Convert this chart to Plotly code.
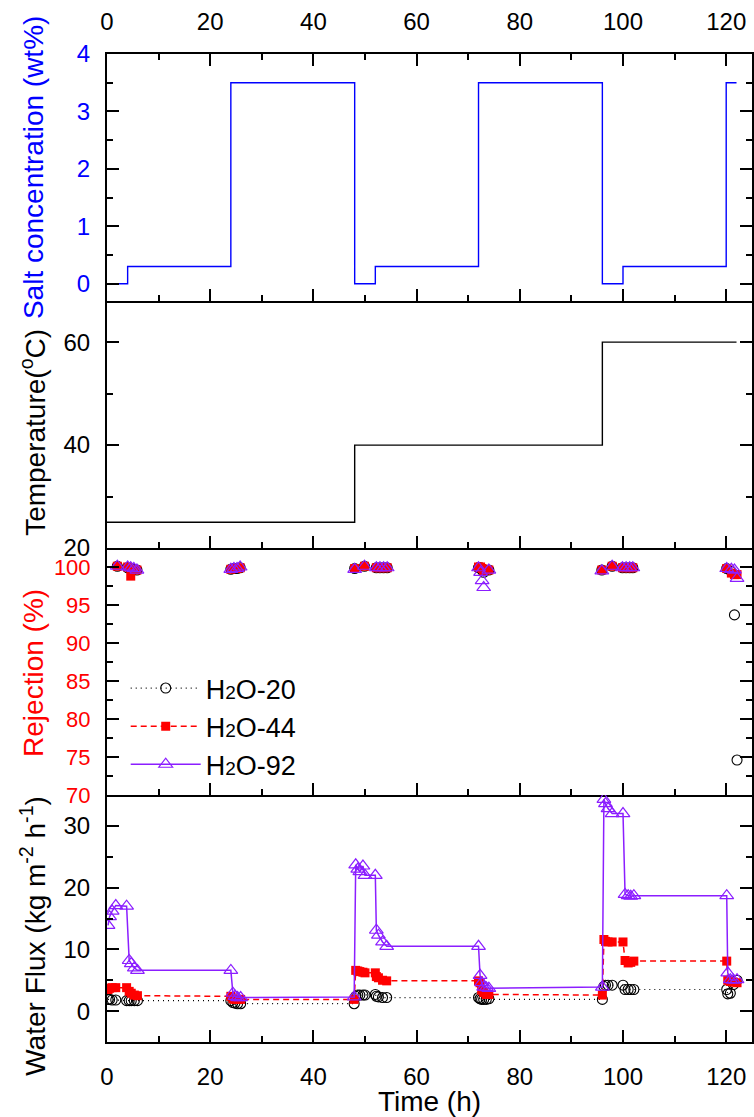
import plotly.graph_objects as go
from plotly.subplots import make_subplots

# ---- feed salt concentration programme (wt%) ----
salt_time = [0, 4, 24, 48, 52, 72, 96, 100, 120, 122]
salt_conc = [0, 0.3, 3.5, 0, 0.3, 3.5, 0, 0.3, 3.5, 3.5]

# ---- feed temperature programme (deg C) ----
temp_time = [0, 48, 96, 122]
temp_c = [25, 40, 60, 60]

# ---- salt rejection (%) ----
rej_time = [2.0, 4.0, 4.6, 5.2, 5.8,
            24.0, 24.6, 25.2, 25.8,
            48.0, 49.9, 52.2, 52.9, 53.6, 54.3,
            72.0, 72.4, 72.7, 73.0, 74.0,
            95.9, 97.9, 99.9, 100.6, 101.3, 101.9,
            120.1, 121.0, 121.6, 122.1]
rej_h2o20 = [100.1, 99.9, 99.8, 99.7, 99.6,
             99.7, 99.8, 99.8, 99.9,
             99.8, 100.1, 99.9, 99.9, 99.9, 99.9,
             99.9, 99.9, 99.6, 99.3, 99.6,
             99.6, 100.1, 99.9, 99.9, 99.9, 99.9,
             99.8, 99.4, 93.7, 74.6]
rej_h2o44 = [100.1, 100.0, 98.8, 99.7, 99.6,
             99.7, 99.8, 99.8, 99.9,
             99.8, 100.1, 99.9, 99.9, 99.9, 99.9,
             100.0, 100.0, 99.8, 99.5, 99.6,
             99.6, 100.1, 99.9, 99.9, 99.9, 99.9,
             99.8, 99.2, 99.0, 99.0]
rej_h2o92 = [100.1, 100.0, 99.9, 99.8, 99.6,
             99.7, 99.8, 99.8, 100.0,
             99.7, 100.1, 99.9, 99.9, 99.9, 99.9,
             99.9, 99.3, 98.2, 97.3, 99.6,
             99.5, 100.1, 99.9, 99.9, 99.9, 99.9,
             99.8, 99.7, 99.6, 98.5]

# ---- water flux (kg m-2 h-1) ----
flux_time = [0.2, 0.5, 1.0, 1.7, 3.8, 4.3, 4.7, 5.3, 5.9,
             24.0, 24.4, 24.8, 25.3, 25.9,
             47.9, 48.2, 48.6, 49.0, 49.6, 50.0, 52.0, 52.2, 52.6, 53.4, 54.2,
             72.0, 72.3, 72.6, 73.0, 73.5, 74.0,
             96.0, 96.3, 96.6, 97.1, 97.9, 100.0, 100.4, 101.0, 101.5, 102.1,
             120.1, 120.3, 120.8, 121.4, 122.1]
flux_h2o20 = [1.9, 1.9, 1.8, 1.8, 1.7, 1.7, 1.7, 1.7, 1.7,
              1.7, 1.4, 1.3, 1.2, 1.2,
              1.2, 2.4, 2.6, 2.6, 2.6, 2.6, 2.7, 2.4, 2.3, 2.2, 2.2,
              2.2, 2.0, 1.9, 1.9, 1.9, 2.0,
              1.9, 4.0, 4.2, 4.2, 4.2, 4.2, 3.5, 3.5, 3.5, 3.5,
              3.5, 2.8, 2.9, 4.3, 5.0]
flux_h2o44 = [3.5, 3.7, 3.8, 3.8, 3.8, 3.2, 2.9, 2.6, 2.5,
              2.4, 2.0, 1.9, 1.9, 1.9,
              1.9, 6.6, 6.5, 6.4, 6.3, 6.2, 6.2, 5.6, 5.4, 5.0, 4.9,
              4.9, 4.6, 3.4, 3.0, 2.7, 2.7,
              2.6, 11.6, 11.3, 11.2, 11.2, 11.2, 8.2, 7.8, 7.9, 8.1,
              8.1, 5.0, 4.8, 4.7, 4.6]
flux_h2o92 = [13.9, 15.3, 16.2, 17.1, 17.0, 8.2, 7.7, 7.0, 6.6,
              6.6, 2.9, 2.4, 2.2, 2.2,
              2.3, 23.7, 23.0, 22.6, 23.5, 22.0, 22.0, 13.1, 12.3, 11.2, 10.5,
              10.5, 5.8, 4.6, 3.9, 3.8, 3.7,
              3.9, 34.3, 33.6, 32.8, 32.0, 32.0, 18.9, 18.7, 18.6, 18.7,
              18.7, 6.2, 5.1, 5.0, 5.1]

FONT = "Liberation Sans, Arial, sans-serif"
BLUE = "#0000ff"
RED = "#ff0000"
PURPLE = "#8b1eff"

series = [
    dict(name='H<span style="font-size:19px">2</span>O-20', flux=flux_h2o20, rej=rej_h2o20,
         color="black", dash="1px,4px", width=1.2,
         marker=dict(symbol="circle-open", size=10, color="black", line=dict(width=1.1))),
    dict(name='H<span style="font-size:19px">2</span>O-44', flux=flux_h2o44, rej=rej_h2o44,
         color=RED, dash="6px,4px", width=1.5,
         marker=dict(symbol="square", size=9, color=RED, line=dict(width=0))),
    dict(name='H<span style="font-size:19px">2</span>O-92', flux=flux_h2o92, rej=rej_h2o92,
         color=PURPLE, dash="solid", width=1.5,
         marker=dict(symbol="triangle-up-open", size=12, color=PURPLE, line=dict(width=1.2))),
]

fig = make_subplots(rows=4, cols=1, vertical_spacing=0)

fig.add_trace(go.Scatter(x=salt_time, y=salt_conc, mode="lines", line_shape="hv",
                         line=dict(color=BLUE, width=1.4), showlegend=False), row=1, col=1)
fig.add_trace(go.Scatter(x=temp_time, y=temp_c, mode="lines", line_shape="hv",
                         line=dict(color="black", width=1.4), showlegend=False), row=2, col=1)

for s in series:
    fig.add_trace(go.Scatter(x=rej_time, y=s["rej"], mode="markers", marker=s["marker"],
                             showlegend=False), row=3, col=1)
for s in series:
    fig.add_trace(go.Scatter(x=flux_time, y=s["flux"], mode="lines+markers", name=s["name"],
                             line=dict(color=s["color"], dash=s["dash"], width=s["width"]),
                             marker=s["marker"]), row=4, col=1)

tick_common = dict(showline=True, linecolor="black", linewidth=2, ticks="inside",
                   ticklen=12, tickwidth=2, tickcolor="black", showgrid=False,
                   zeroline=False)
minor_common = dict(ticks="inside", ticklen=6, tickwidth=2, tickcolor="black", showgrid=False)

for r in range(1, 5):
    fig.update_xaxes(range=[0, 125], dtick=20, tick0=0,
                     minor=dict(dtick=10, **minor_common),
                     tickfont=dict(family=FONT, size=24, color="black"),
                     ticklabelstandoff=12, **tick_common, row=r, col=1)
fig.update_xaxes(side="top", mirror="ticks", showticklabels=True, row=1, col=1)
fig.update_xaxes(showticklabels=False, row=2, col=1)
fig.update_xaxes(showticklabels=False, row=3, col=1)
fig.update_xaxes(showticklabels=True, title=dict(text="Time (h)", font=dict(family=FONT, size=28),
                                                 standoff=6), row=4, col=1)

y_common = dict(mirror="ticks", ticklabelstandoff=10, **tick_common)
fig.update_yaxes(range=[-0.3, 4], dtick=1, tick0=0, minor=dict(dtick=0.5, **minor_common),
                 tickfont=dict(family=FONT, size=24, color=BLUE), **y_common, row=1, col=1)
fig.update_yaxes(range=[20, 68], dtick=20, tick0=20, minor=dict(dtick=10, **minor_common),
                 tickfont=dict(family=FONT, size=24, color="black"), **y_common, row=2, col=1)
fig.update_yaxes(range=[70, 102.5], dtick=5, tick0=70, minor=dict(dtick=2.5, **minor_common),
                 tickfont=dict(family=FONT, size=22, color=RED), **y_common, row=3, col=1)
fig.update_yaxes(range=[-5, 35], dtick=10, tick0=0, minor=dict(dtick=5, **minor_common),
                 tickfont=dict(family=FONT, size=24, color="black"), **y_common, row=4, col=1)

titles = [
    ("Salt concentration (wt%)", BLUE, 0.885),
    ("Temperature(<sup>o</sup>C)", "black", 0.617),
    ("Rejection (%)", RED, 0.374),
    ("Water Flux (kg m<sup>-2</sup> h<sup>-1</sup>)", "black", 0.108),
]
for text, color, yp in titles:
    fig.add_annotation(text=text, xref="paper", yref="paper", x=-0.114, y=yp,
                       xanchor="center", yanchor="middle", textangle=-90, showarrow=False,
                       font=dict(family=FONT, size=28, color=color))

fig.update_layout(
    width=754, height=1117,
    margin=dict(l=107, r=0, t=54, b=75),
    paper_bgcolor="white", plot_bgcolor="white",
    font=dict(family=FONT, color="black"),
    showlegend=True,
    legend=dict(x=0.029, y=0.3826, xanchor="left", yanchor="top",
                bgcolor="rgba(0,0,0,0)", font=dict(family=FONT, size=27),
                tracegroupgap=0, itemwidth=70),
)

fig.write_html("out.html")
